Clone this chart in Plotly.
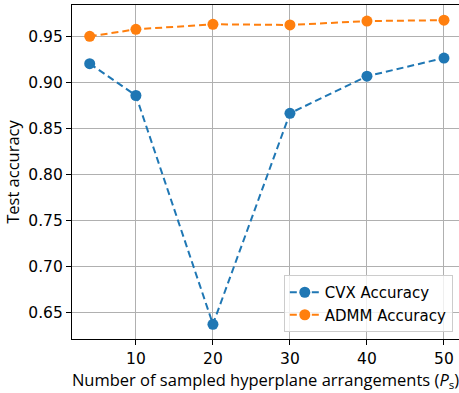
import plotly.graph_objects as go

# Number of sampled hyperplane arrangements
num_arrangements = [4, 10, 20, 30, 40, 50]

# Test accuracy for each solver
cvx_accuracy = [0.9206, 0.886, 0.637, 0.8666, 0.907, 0.9268]
admm_accuracy = [0.9504, 0.958, 0.9635, 0.9628, 0.967, 0.968]

x_ticks = [10, 20, 30, 40, 50]
y_ticks = [0.65, 0.70, 0.75, 0.80, 0.85, 0.90, 0.95]

BLUE = "#1f77b4"
ORANGE = "#ff7f0e"

fig = go.Figure()
fig.add_trace(go.Scatter(
    x=num_arrangements, y=cvx_accuracy, name="CVX Accuracy",
    mode="lines+markers",
    line=dict(color=BLUE, width=2, dash="7px,4px"),
    marker=dict(color=BLUE, size=11),
))
fig.add_trace(go.Scatter(
    x=num_arrangements, y=admm_accuracy, name="ADMM Accuracy",
    mode="lines+markers",
    line=dict(color=ORANGE, width=2, dash="7px,4px"),
    marker=dict(color=ORANGE, size=11),
))

tick_font = dict(family="DejaVu Sans", size=15.5, color="black")
title_font = dict(family="Open Sans", size=16.5, color="black")

fig.update_layout(
    width=459, height=393,
    margin=dict(l=72, r=0, t=5, b=54),
    plot_bgcolor="white", paper_bgcolor="white",
    showlegend=True,
    legend=dict(
        x=0.984, y=0.021, xanchor="right", yanchor="bottom",
        bgcolor="rgba(255,255,255,0.8)", bordercolor="#cccccc", borderwidth=1,
        font=dict(family="DejaVu Sans", size=15, color="black"),
        tracegroupgap=2,
    ),
)
fig.update_xaxes(
    range=[1.7, 51.95], tickvals=x_ticks,
    showgrid=True, gridcolor="#b0b0b0", gridwidth=1.2,
    showline=True, linecolor="black", linewidth=1.2, mirror=True,
    ticks="outside", ticklen=5, tickcolor="black", tickwidth=1,
    tickfont=tick_font, zeroline=False,
    title=dict(text="Number of sampled hyperplane arrangements (<i>P</i><sub>s</sub>)",
               font=title_font, standoff=4),
)
fig.update_yaxes(
    range=[0.621, 0.9845], tickvals=y_ticks, tickformat=".2f",
    showgrid=True, gridcolor="#b0b0b0", gridwidth=1.2,
    showline=True, linecolor="black", linewidth=1.2, mirror=False,
    ticks="outside", ticklen=5, tickcolor="black", tickwidth=1,
    tickfont=tick_font, zeroline=False,
    title=dict(text="Test accuracy", font=title_font, standoff=4),
)

fig.write_html("out.html")
